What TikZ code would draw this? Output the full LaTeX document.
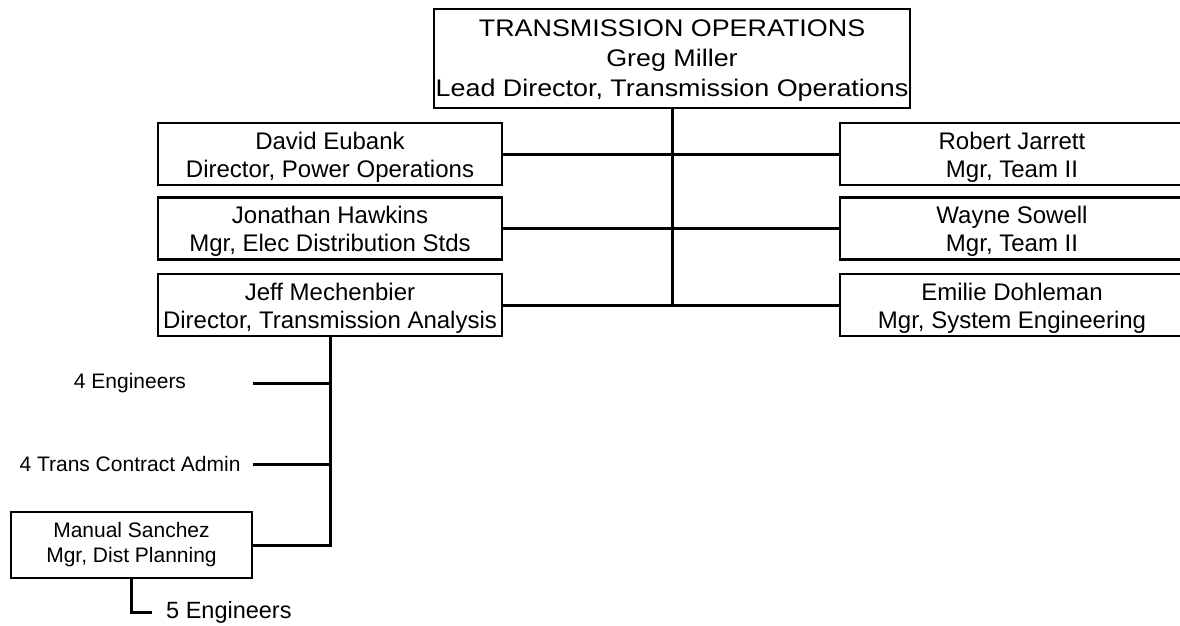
\documentclass[tikz,border=0pt]{standalone}
\usepackage{fontspec}
\setmainfont{Liberation Sans}
\newfontfamily\widesans[FakeStretch=1.12]{Liberation Sans}
\usetikzlibrary{calc}

\newcommand{\tallline}{\rule{0pt}{23.5pt}}

\tikzset{
  orgbox/.style={draw, line width=2.6pt, align=center, inner sep=0pt,
    minimum width=344pt, minimum height=62pt, font=\fontsize{24}{28}\selectfont},
  smalltext/.style={align=center, inner sep=0pt, font=\fontsize{21}{25}\selectfont},
  link/.style={line width=3pt}
}

\begin{document}
\begin{tikzpicture}[x=1pt, y=-1pt]
    \useasboundingbox (0,0) rectangle (1180,625);
    \clip (0,0) rectangle (1180,625);

    % head of the department
    \node[draw, line width=2.6pt, align=center, inner sep=0pt, minimum width=476pt, minimum height=99pt,
      font=\widesans\fontsize{24}{30}\selectfont] at (672,58.5) (top)
      {\rule{0pt}{20.5pt}TRANSMISSION OPERATIONS\\Greg Miller\\Lead Director, Transmission Operations};

    % left column
    \node[orgbox] at (330,154) (eubank) {\tallline David Eubank\\Director, Power Operations};
    \node[orgbox] at (330,228.5) (hawkins) {\tallline Jonathan Hawkins\\Mgr, Elec Distribution Stds};
    \node[orgbox] at (330,305) (mechenbier) {\tallline Jeff Mechenbier\\Director, Transmission Analysis};

    % right column
    \node[orgbox] at (1012,154) (jarrett) {\tallline Robert Jarrett\\Mgr, Team II};
    \node[orgbox] at (1012,228.5) (sowell) {\tallline Wayne Sowell\\Mgr, Team II};
    \node[orgbox] at (1012,305) (dohleman) {\tallline Emilie Dohleman\\Mgr, System Engineering};

    \draw[link] (top.south) -- (top.south |- mechenbier.east);
    \draw[link] (eubank.east) -- (jarrett.west);
    \draw[link] (hawkins.east) -- (sowell.west);
    \draw[link] (mechenbier.east) -- (dohleman.west);

    % under transmission analysis
    \node[smalltext] at (130,383) (eng) {4 Engineers};
    \node[smalltext] at (130,464) (contract) {4 Trans Contract Admin};
    \node[orgbox, minimum width=241pt, minimum height=66pt, font=\fontsize{21}{25}\selectfont] at (131.5,545) (sanchez)
      {Manual Sanchez\\Mgr, Dist Planning};

    \draw[link] (mechenbier.south) |- (sanchez.east);
    \draw[link] (mechenbier.south |- eng) -- (sanchez.east |- eng);
    \draw[link] (mechenbier.south |- contract) -- (sanchez.east |- contract);

    \node[anchor=west, inner sep=0pt, font=\fontsize{23.5}{28}\selectfont] at (166,612) (fiveeng) {5 Engineers};
    \draw[link] (sanchez.south) |- ([xshift=-14pt]fiveeng.west);
\end{tikzpicture}
\end{document}
